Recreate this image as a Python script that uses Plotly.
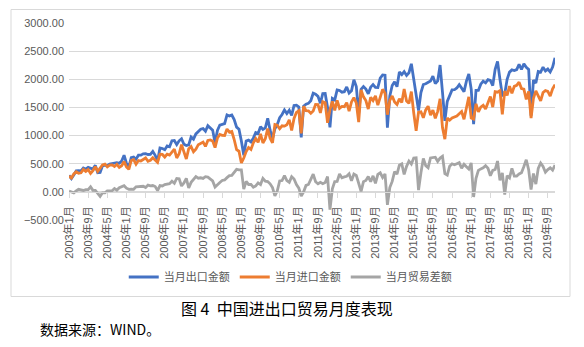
import plotly.graph_objects as go

# Monthly data, 2003-01 .. 2019-12 (亿美元)
years = list(range(2003, 2020))
months = [f"{y}年{m}月" for y in years for m in range(1, 13)]

exports = [
    291, 237, 300, 372, 376, 373, 425, 403, 436, 416, 404, 471,
    341, 344, 462, 475, 464, 495, 500, 511, 520, 508, 549, 650,
    508, 445, 608, 620, 581, 652, 652, 675, 679, 664, 667, 720,
    650, 547, 780, 770, 749, 815, 800, 908, 913, 840, 907, 944,
    845, 822, 834, 973, 936, 1030, 1080, 1113, 1123, 1077, 1177, 1145,
    1097, 872, 1090, 1187, 1205, 1214, 1367, 1349, 1365, 1283, 1150, 1112,
    905, 649, 903, 919, 888, 954, 1054, 1037, 1159, 1108, 1136, 1307,
    1095, 946, 1121, 1199, 1317, 1374, 1455, 1392, 1450, 1360, 1534, 1541,
    1507, 967, 1522, 1557, 1572, 1619, 1752, 1733, 1696, 1574, 1745, 1747,
    1499, 1145, 1659, 1633, 1811, 1802, 1770, 1780, 1863, 1755, 1794, 1991,
    1873, 1393, 1821, 1870, 1827, 1743, 1860, 1906, 1856, 1853, 2022, 2077,
    2071, 1141, 1702, 1889, 1955, 1868, 2128, 2084, 2137, 2069, 2117, 2275,
    2000, 1692, 1446, 1763, 1907, 1920, 1952, 1968, 2057, 1924, 1972, 2253,
    1773, 1261, 1608, 1728, 1811, 1814, 1846, 1906, 1846, 1781, 1968, 2095,
    1826, 1202, 1803, 1802, 1914, 1966, 1937, 1994, 1981, 1888, 2177, 2318,
    2002, 1716, 1741, 2000, 2127, 2167, 2155, 2173, 2266, 2175, 2274, 2212,
    2175, 1353, 1986, 1933, 2138, 2128, 2215, 2148, 2182, 2129, 2217, 2381,
]

imports = [
    278, 247, 318, 356, 331, 338, 400, 363, 396, 327, 378, 446,
    364, 423, 479, 493, 445, 475, 480, 451, 489, 436, 464, 540,
    443, 400, 558, 574, 491, 556, 548, 575, 603, 544, 561, 607,
    555, 523, 669, 665, 619, 670, 654, 719, 760, 602, 676, 840,
    687, 584, 765, 804, 712, 760, 838, 863, 885, 807, 914, 922,
    902, 787, 956, 1020, 1003, 1002, 1115, 1061, 1072, 930, 750, 722,
    514, 601, 717, 788, 755, 871, 948, 879, 1030, 868, 945, 1123,
    953, 870, 1194, 1182, 1122, 1173, 1168, 1192, 1281, 1089, 1305, 1413,
    1441, 1040, 1521, 1443, 1441, 1397, 1437, 1554, 1552, 1404, 1600, 1582,
    1226, 1460, 1606, 1449, 1624, 1485, 1519, 1513, 1586, 1435, 1598, 1675,
    1581, 1240, 1812, 1688, 1623, 1471, 1681, 1621, 1704, 1542, 1684, 1821,
    1753, 1371, 1625, 1704, 1596, 1553, 1655, 1586, 1828, 1615, 1572, 1781,
    1400, 1086, 1416, 1423, 1315, 1455, 1522, 1365, 1454, 1308, 1430, 1653,
    1142, 936, 1310, 1273, 1313, 1334, 1347, 1387, 1426, 1290, 1522, 1689,
    1312, 1293, 1564, 1421, 1506, 1539, 1471, 1574, 1695, 1506, 1780, 1770,
    1797, 1378, 1790, 1713, 1878, 1751, 1874, 1893, 1949, 1835, 1825, 1642,
    1784, 1312, 1660, 1795, 1720, 1618, 1765, 1799, 1786, 1701, 1830, 1906,
]

balance = [
    13, -10, -18, 16, 45, 35, 25, 40, 40, 89, 26, 25,
    -23, -79, -17, -18, 19, 20, 20, 60, 31, 72, 85, 110,
    65, 45, 50, 46, 90, 96, 104, 100, 76, 120, 106, 113,
    95, 24, 111, 105, 130, 145, 146, 189, 153, 238, 231, 104,
    158, 238, 69, 169, 224, 270, 242, 250, 238, 270, 263, 223,
    195, 85, 134, 167, 202, 212, 252, 288, 293, 353, 400, 390,
    391, 48, 186, 131, 133, 83, 106, 158, 129, 240, 191, 184,
    142, 76, -73, 17, 195, 201, 287, 200, 169, 271, 229, 128,
    66, -73, 1, 114, 131, 222, 315, 179, 144, 170, 145, 165,
    273, -315, 53, 184, 187, 317, 251, 267, 277, 320, 196, 316,
    292, 153, 9, 182, 204, 272, 179, 285, 152, 311, 338, 256,
    318, -230, 77, 185, 359, 315, 473, 498, 309, 454, 545, 494,
    600, 606, 30, 340, 592, 465, 430, 603, 603, 616, 542, 600,
    631, 325, 298, 455, 498, 480, 499, 519, 420, 491, 446, 406,
    514, -91, 239, 381, 408, 427, 466, 420, 286, 382, 397, 548,
    205, 338, -49, 287, 249, 416, 281, 280, 317, 340, 449, 570,
    391, 41, 326, 138, 418, 510, 450, 349, 396, 428, 387, 475,
]

tick_labels = [
    "2003年1月", "2003年9月", "2004年5月", "2005年1月", "2005年9月", "2006年5月",
    "2007年1月", "2007年9月", "2008年5月", "2009年1月", "2009年9月", "2010年5月",
    "2011年1月", "2011年9月", "2012年5月", "2013年1月", "2013年9月", "2014年5月",
    "2015年1月", "2015年9月", "2016年5月", "2017年1月", "2017年9月", "2018年5月",
    "2019年1月", "2019年9月",
]

series_names = ["当月出口金额", "当月进口金额", "当月贸易差额"]
colors = ["#4472C4", "#ED7D31", "#A5A5A5"]

W, H = 584, 347
L, R, T, B = 69, 555, 23, 220  # plot area in px

def px_x(v):
    return (v - L) / (R - L)

def px_y(v):
    return (B - v) / (B - T)

fig = go.Figure()
for name, vals, c in zip(series_names, [exports, imports, balance], colors):
    fig.add_trace(go.Scatter(
        x=months, y=vals, name=name, mode="lines",
        line=dict(color=c, width=2.8),
    ))

font_main = "Liberation Sans, Noto Sans CJK SC, sans-serif"
grey_txt = "#595959"

fig.update_layout(
    width=W, height=H,
    margin=dict(l=L, r=W - R, t=T, b=H - B, autoexpand=False),
    paper_bgcolor="white", plot_bgcolor="white",
    font=dict(family=font_main, color=grey_txt, size=11),
    showlegend=True,
    legend=dict(
        orientation="h", xref="container", yref="container",
        x=0.497, xanchor="center", y=1 - 277 / H, yanchor="middle",
        font=dict(size=11, color=grey_txt),
        bgcolor="rgba(0,0,0,0)", tracegroupgap=0,
    ),
    xaxis=dict(
        type="category", range=[0, len(months) - 1],
        tickmode="array", tickvals=tick_labels, ticktext=tick_labels,
        tickangle=-90, tickfont=dict(size=11, color=grey_txt),
        anchor="free", position=1 / 7, automargin=False,
        showline=True, linecolor="#D9D9D9", linewidth=1,
        ticks="outside", ticklen=5, tickcolor="#D9D9D9",
        ticklabelstandoff=4,
        showgrid=False, zeroline=False,
    ),
    yaxis=dict(
        range=[-500, 3000], dtick=500, tick0=0, tickformat=".2f",
        tickfont=dict(size=11, color=grey_txt), automargin=False,
        showgrid=True, gridcolor="#D9D9D9", gridwidth=1,
        zeroline=False, showline=False, ticks="",
        ticklabelstandoff=4,
    ),
)

# chart border
fig.add_shape(
    type="rect", xref="paper", yref="paper",
    x0=px_x(11), x1=px_x(570), y0=px_y(296.5), y1=px_y(9.5),
    line=dict(color="#D9D9D9", width=1), fillcolor="rgba(0,0,0,0)",
    layer="below",
)

fig.add_annotation(
    text="图 4  中国进出口贸易月度表现", xref="paper", yref="paper",
    x=px_x(287), y=px_y(308), xanchor="center", yanchor="middle",
    showarrow=False, font=dict(size=16, color="#000000", family="Noto Sans CJK SC"),
)
fig.add_annotation(
    text="数据来源：WIND。", xref="paper", yref="paper",
    x=px_x(38), y=px_y(329), xanchor="left", yanchor="middle",
    showarrow=False, font=dict(size=14, color="#000000", family="Noto Sans CJK SC"),
)

fig.write_html("out.html")
